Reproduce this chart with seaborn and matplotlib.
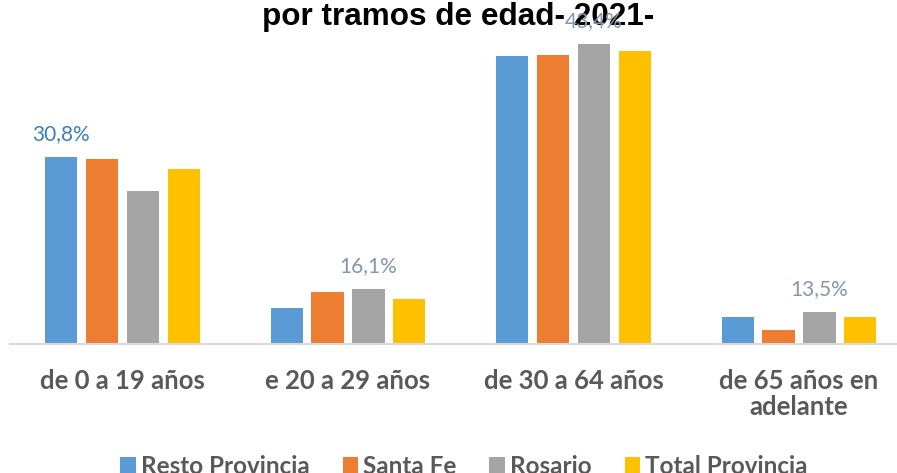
import pandas as pd
import matplotlib
matplotlib.use("Agg")
import matplotlib.pyplot as plt
import seaborn as sns
from matplotlib.patches import Patch

# Data (percent of population by age range, 2021)
age_groups = ['de 0 a 19 años', 'e 20 a 29 años', 'de 30 a 64 años', 'de 65 años en\nadelante']
series = ['Resto Provincia', 'Santa Fe', 'Rosario', 'Total Provincia']
resto = [30.8, 14.0, 42.1, 13.0]
santa_fe = [30.6, 15.7, 42.2, 11.5]
rosario = [27.0, 16.1, 43.4, 13.5]
total = [29.4, 15.0, 42.6, 12.9]
colors = ['#5b9bd5', '#ed7d31', '#a5a5a5', '#ffc000']

# labels shown on the chart: (group index, series index, text)
shown_labels = [(0, 0, '30,8%'), (1, 2, '16,1%'), (2, 2, '43,4%'), (3, 2, '13,5%')]
label_colors = ['#3d7ebf', '#8497b0', '#8497b0', '#8497b0']

sns.set_style('white')
plt.rcParams['font.family'] = ['Lato', 'DejaVu Sans']

df = pd.DataFrame({
    'grupo': age_groups * 4,
    'serie': [s for s in series for _ in age_groups],
    'valor': resto + santa_fe + rosario + total,
})

W, H = 897, 473
fig = plt.figure(figsize=(W / 100, H / 100), dpi=100)
base_y = 343.5
px_per_pct = 8.97
ax = fig.add_axes([9.75 / W, (H - base_y) / H, (W - 9.75) / W, base_y / H])

sns.barplot(data=df, x='grupo', y='valor', hue='serie', palette=colors, saturation=1,
            width=0.725, gap=0.21, linewidth=0, legend=False, ax=ax)

ax.set_ylim(10, 10 + base_y / px_per_pct)
ax.set_xlim(-0.5, -0.5 + (W - 9.75) / 225.5)

# title sits under the data labels
ax.text(458 / W, 1 - 25 / H, 'por tramos de edad- 2021-', transform=fig.transFigure,
        ha='center', va='baseline', fontsize=22.7, fontweight='bold',
        family='Liberation Sans', color='black', zorder=1, clip_on=False)

# data labels
for (g, s, txt), c in zip(shown_labels, label_colors):
    bar = ax.containers[s][g]
    ax.annotate(txt, (bar.get_x() + bar.get_width() / 2, bar.get_height()),
                xytext=(0, 12), textcoords='offset points', ha='center',
                va='baseline', fontsize=15, color=c, zorder=5,
                annotation_clip=False)

ax.set_xlabel('')
ax.set_ylabel('')
ax.set_yticks([])
ax.tick_params(axis='x', length=0, pad=18.5, labelsize=18.5, labelcolor='#595959')
for lbl in ax.get_xticklabels():
    lbl.set_fontweight('bold')
    lbl.set_linespacing(1.1)
for side in ['top', 'left', 'right']:
    ax.spines[side].set_visible(False)
ax.spines['bottom'].set_color('#d9d9d9')
ax.spines['bottom'].set_linewidth(1.5)

handles = [Patch(facecolor=c, edgecolor='none', label=s) for s, c in zip(series, colors)]
leg = fig.legend(handles=handles, loc='center', bbox_to_anchor=(464 / W, (H - 466) / H),
                 ncol=4, frameon=False, handlelength=0.65, handleheight=0.65,
                 handletextpad=0.2, columnspacing=1.35,
                 prop={'weight': 'bold', 'size': 17.5})
for t in leg.get_texts():
    t.set_color('#595959')

fig.savefig('out.png', dpi=100)
